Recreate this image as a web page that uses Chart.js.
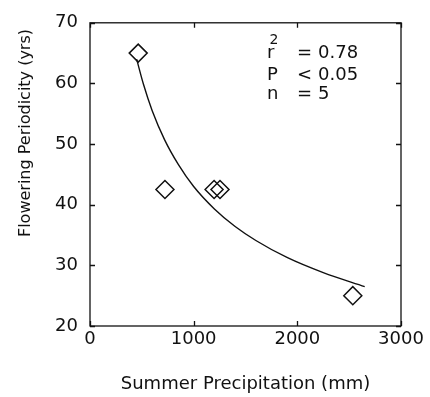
<!DOCTYPE html>
<html>
<head>
<meta charset="utf-8">
<script src="https://cdn.jsdelivr.net/npm/chart.js@4"></script>
<style>
  html, body { margin: 0; padding: 0; background: #fff; }
  canvas { display: block; }
</style>
</head>
<body>
<canvas id="chart" width="430" height="397"></canvas>
<script>
// observed points
const precip = [465, 723, 1197, 1254, 2535];
const periodicity = [65, 42.5, 42.5, 42.5, 25];

// fitted curve
const curveX = [450, 515, 600, 720, 850, 1000, 1200, 1400, 1600, 1900, 2250, 2650];
const curveY = [64.0, 59.9, 55.5, 50.7, 46.7, 43.0, 39.3, 36.4, 34.1, 31.3, 28.8, 26.5];

// tick labels
const xTicks = [0, 1000, 2000, 3000];
const yTicks = [20, 30, 40, 50, 60, 70];

// stats box
const statsRows = [
    ['r', '=', '0.78'],
    ['P', '<', '0.05'],
    ['n', '=', '5']
];

const INK = '#111';
const FONT = '"DejaVu Sans", sans-serif';

/**
 * 画外框、向内的刻度、纵轴标题和统计文字
 */
const framePlugin = {
    id: 'frame',
    afterDraw(chart) {
        const { ctx, chartArea: a, scales: { x, y } } = chart;
        ctx.save();
        ctx.strokeStyle = INK;
        ctx.lineWidth = 1.3;
        ctx.strokeRect(a.left, a.top, a.right - a.left, a.bottom - a.top);

        const len = 5;
        ctx.beginPath();
        xTicks.forEach(v => {
            const px = Math.round(x.getPixelForValue(v)) + 0.5;
            ctx.moveTo(px, a.bottom); ctx.lineTo(px, a.bottom - len);
            ctx.moveTo(px, a.top); ctx.lineTo(px, a.top + len);
        });
        yTicks.forEach(v => {
            const py = Math.round(y.getPixelForValue(v)) + 0.5;
            ctx.moveTo(a.left, py); ctx.lineTo(a.left + len, py);
            ctx.moveTo(a.right, py); ctx.lineTo(a.right - len, py);
        });
        ctx.stroke();

        // y axis title
        ctx.fillStyle = INK;
        ctx.font = '16px ' + FONT;
        ctx.textAlign = 'center';
        ctx.textBaseline = 'middle';
        ctx.translate(26, 133);
        ctx.rotate(-Math.PI / 2);
        ctx.fillText('Flowering Periodicity (yrs)', 0, 0);
        ctx.setTransform(1, 0, 0, 1, 0, 0);

        // stats
        ctx.textAlign = 'left';
        ctx.textBaseline = 'alphabetic';
        const cols = [267, 297, 318];
        const rows = [57.5, 79.5, 98.5];
        statsRows.forEach((row, i) => {
            ctx.font = '18px ' + FONT;
            row.forEach((s, j) => ctx.fillText(s, cols[j], rows[i]));
        });
        ctx.font = '14px ' + FONT;
        ctx.fillText('2', 269.5, 43.5);
        ctx.restore();
    }
};

new Chart(document.getElementById('chart'), {
    type: 'scatter',
    data: {
        datasets: [{
            label: 'curve',
            data: curveX.map((v, i) => ({ x: v, y: curveY[i] })),
            showLine: true,
            borderColor: INK,
            borderWidth: 1.4,
            pointRadius: 0,
            cubicInterpolationMode: 'monotone'
        }, {
            label: 'sites',
            data: precip.map((v, i) => ({ x: v, y: periodicity[i] })),
            pointStyle: 'rectRot',
            pointRadius: 9,
            pointBorderWidth: 1.5,
            pointBorderColor: INK,
            pointBackgroundColor: 'rgba(0,0,0,0)'
        }]
    },
    options: {
        responsive: false,
        animation: false,
        devicePixelRatio: 1,
        layout: { padding: { left: 0, right: 29, top: 16, bottom: 0 } },
        plugins: {
            legend: { display: false },
            tooltip: { enabled: false }
        },
        scales: {
            x: {
                min: 0, max: 3000,
                afterBuildTicks: s => { s.ticks = xTicks.map(v => ({ value: v })); },
                afterFit: s => { s.height = 71; },
                grid: { display: false, drawTicks: false },
                border: { display: false },
                ticks: {
                    color: INK,
                    font: { family: FONT, size: 18 },
                    padding: 3,
                    maxRotation: 0,
                    callback: v => String(v)
                },
                title: {
                    display: true,
                    text: 'Summer Precipitation (mm)',
                    color: INK,
                    font: { family: FONT, size: 18 },
                    padding: { top: 0, bottom: 2 }
                }
            },
            y: {
                min: 20, max: 70,
                afterBuildTicks: s => { s.ticks = yTicks.map(v => ({ value: v })); },
                afterFit: s => { s.width = 90; },
                grid: { display: false, drawTicks: false },
                border: { display: false },
                ticks: {
                    color: INK,
                    font: { family: FONT, size: 18 },
                    padding: 12,
                    callback: v => String(v)
                }
            }
        }
    },
    plugins: [framePlugin]
});
</script>
</body>
</html>
